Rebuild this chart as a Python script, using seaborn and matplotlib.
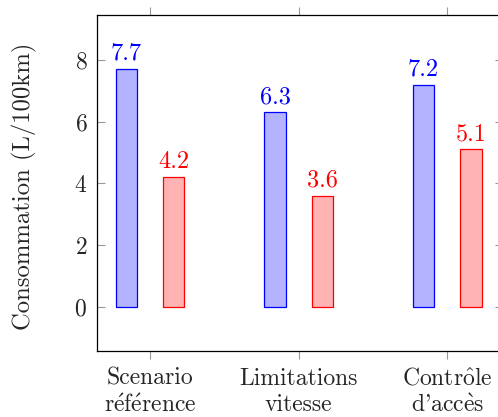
import pandas as pd
import matplotlib
matplotlib.use("Agg")
import matplotlib.pyplot as plt
import seaborn as sns

# data
scenarios = ["Scenario\n" + r"r$\mathrm{\acute{e}}$f$\mathrm{\acute{e}}$rence",
             "Limitations\nvitesse",
             "Contr$\\mathrm{\\hat{o}}$le\nd'acc$\\mathrm{\\grave{e}}$s"]
serie_bleue = [7.7, 6.3, 7.2]
serie_rouge = [4.2, 3.6, 5.1]
series = ["bleu", "rouge"]

df = pd.DataFrame({
    "scenario": scenarios * 2,
    "serie": [series[0]] * 3 + [series[1]] * 3,
    "valeur": serie_bleue + serie_rouge,
})

sns.set_style("white")
plt.rcParams["font.family"] = ["cmr10", "DejaVu Serif"]
plt.rcParams["mathtext.fontset"] = "cm"
plt.rcParams["axes.formatter.use_mathtext"] = True

fig = plt.figure(figsize=(4.98, 4.17), dpi=100)
ax = fig.add_axes([97 / 498, 66 / 417, 406 / 498, 336 / 417])

fills = {"bleu": "#b3b3ff", "rouge": "#ffb3b3"}
edges = {"bleu": "#0000ff", "rouge": "#ff0000"}

sns.barplot(data=df, x="scenario", y="valeur", hue="serie", hue_order=series,
            palette=fills, saturation=1, width=0.636, gap=0.55, legend=False,
            ax=ax, linewidth=0.9, errorbar=None)

for cont, s in zip(ax.containers, series):
    for p in cont:
        p.set_edgecolor(edges[s])
    ax.bar_label(cont, labels=[f"{v:.1f}" for v in cont.datavalues],
                 padding=3, color=edges[s], fontsize=17.5)

ax.set_xlim(-0.356, 2.375)
ax.set_ylim(-1.42, 9.45)
ax.set_yticks([0, 2, 4, 6, 8])
ax.set_xlabel("")
ax.set_ylabel("Consommation (L/100km)", fontsize=17.8)
ax.yaxis.set_label_coords(-0.147, 0.49)

for sp in ax.spines.values():
    sp.set_visible(True)
    sp.set_color("black")
    sp.set_linewidth(0.9)

ax.tick_params(axis="x", direction="out", top=True, bottom=True, length=6,
               width=0.8, color="#999999", labelsize=17, pad=6)
ax.tick_params(axis="y", direction="in", left=True, right=True, length=6,
               width=0.8, color="#999999", labelsize=17, pad=7)
for t in ax.get_xticklabels():
    t.set_linespacing(1.25)

fig.savefig("out.png", dpi=100)
